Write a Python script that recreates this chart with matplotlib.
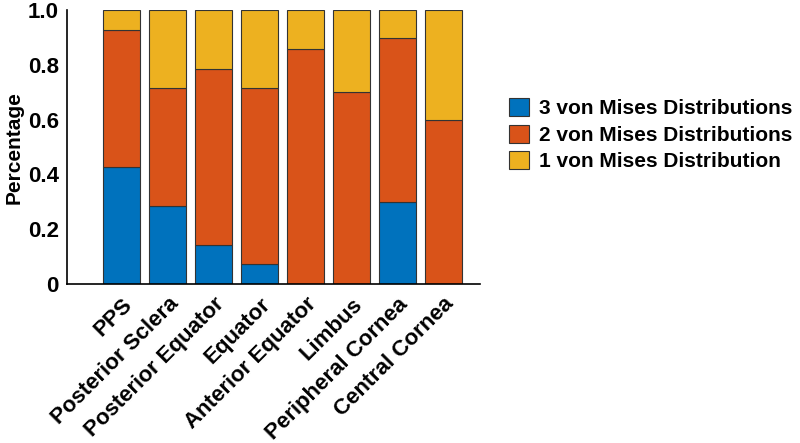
import numpy as np
import matplotlib.pyplot as plt

plt.rcParams['font.family'] = ['Liberation Sans', 'DejaVu Sans']
plt.rcParams['font.weight'] = 'bold'

regions = ["PPS", "Posterior Sclera", "Posterior Equator", "Equator",
           "Anterior Equator", "Limbus", "Peripheral Cornea", "Central Cornea"]
three_vm = [6/14, 2/7, 1/7, 1/14, 0.0, 0.0, 0.3, 0.0]
two_vm = [7/14, 3/7, 9/14, 9/14, 6/7, 0.7, 0.6, 0.6]
one_vm = [1/14, 2/7, 3/14, 4/14, 1/7, 0.3, 0.1, 0.4]
yticks = [0, 0.2, 0.4, 0.6, 0.8, 1.0]
ytick_labels = ["0", "0.2", "0.4", "0.6", "0.8", "1.0"]

colors = ["#0072BD", "#D95319", "#EDB120"]
names = ["3 von Mises Distributions", "2 von Mises Distributions", "1 von Mises Distribution"]

fig = plt.figure(figsize=(8, 4.43), dpi=100)
ax = fig.add_axes([0.084, 0.359, 0.516, 0.618])

x = np.arange(1, len(regions) + 1)
bottom = np.zeros(len(regions))
for vals, c, n in zip([three_vm, two_vm, one_vm], colors, names):
    ax.bar(x, vals, 0.8, bottom=bottom, color=c, edgecolor="#333333",
           linewidth=0.8, label=n)
    bottom += np.array(vals)

ax.set_xlim(-0.19, 8.8)
ax.set_ylim(0, 1.0)
ax.set_yticks(yticks)
ax.set_yticklabels(ytick_labels, fontsize=16, fontweight='bold')
ax.set_xticks(x)
ax.set_xticklabels(regions, rotation=45, ha='right', rotation_mode='anchor',
                   fontsize=16, fontweight='bold')
ax.tick_params(axis='x', length=0, pad=7)
ax.tick_params(axis='y', length=0, pad=6)
ax.set_ylabel("Percentage", fontsize=15, fontweight='bold')
ax.yaxis.set_label_coords(-0.105, 0.5)
for s in ['top', 'right']:
    ax.spines[s].set_visible(False)
for s in ['left', 'bottom']:
    ax.spines[s].set_linewidth(1.2)

ax.legend(loc='center left', bbox_to_anchor=(1.05, 0.545), frameon=False,
          prop={'size': 15, 'weight': 'bold'}, handlelength=0.95,
          handleheight=0.95, handletextpad=0.5, labelspacing=0.3,
          borderaxespad=0)

fig.savefig("out.png", dpi=100)
